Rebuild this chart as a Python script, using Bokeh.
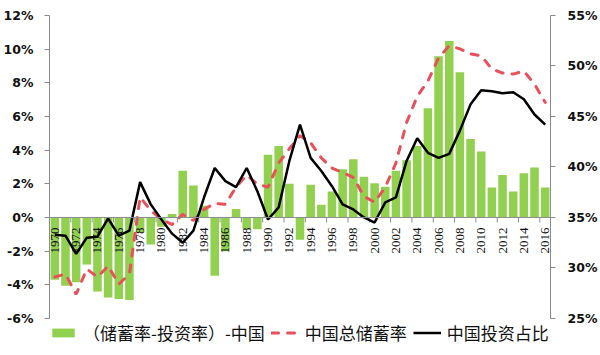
import math
from bokeh.plotting import figure
from bokeh.models import Range1d, LinearAxis, FixedTicker, Legend, LegendItem, Span
from bokeh.embed import file_html
from bokeh.resources import INLINE

years = list(range(1970, 2017))
gap = [-3.7, -4.05, -3.85, -2.8, -4.4, -4.75, -4.85, -4.9, -0.9, -1.6,
       -0.55, 0.2, 2.77, 1.9, 0.7, -3.46, -2.0, 0.5, -0.7, -0.7,
       3.72, 4.25, 2.0, -1.32, 1.94, 0.75, 1.55, 2.87, 3.46, 2.42,
       2.04, 1.82, 2.77, 3.4, 4.24, 6.49, 9.58, 10.49, 8.63, 4.67,
       3.92, 1.78, 2.53, 1.55, 2.63, 2.97, 1.78]
saving = [29.1, 29.4, 27.4, 29.9, 29.1, 30.2, 28.4, 29.4, 37.0, 35.7,
          34.8, 34.3, 35.3, 34.7, 35.8, 36.4, 36.3, 38.0, 39.2, 38.3,
          38.0, 40.4, 41.8, 43.1, 42.4, 40.9, 39.9, 39.45, 38.96, 37.1,
          36.5, 38.0, 40.4, 44.4, 47.0, 48.5, 50.8, 52.0, 51.7, 51.2,
          51.0, 49.7, 49.3, 49.2, 49.5, 48.2, 46.4]
invest = [33.3, 33.2, 31.4, 33.0, 33.1, 34.9, 33.2, 33.7, 38.5, 36.3,
          34.8, 33.4, 32.5, 33.7, 37.0, 39.9, 38.6, 38.0, 39.9, 37.6,
          34.8, 36.0, 40.6, 44.2, 40.9, 39.6, 38.1, 36.3, 35.8, 35.0,
          34.5, 36.5, 37.0, 40.6, 42.85, 41.4, 40.9, 41.3, 43.6, 46.2,
          47.6, 47.5, 47.3, 47.4, 46.7, 45.2, 44.2]
left_ticks = [-6, -4, -2, 0, 2, 4, 6, 8, 10, 12]
right_ticks = [25, 30, 35, 40, 45, 50, 55]
x_label_years = years[::2]
x_labels = [str(y) for y in x_label_years]
x_boundaries = [1969.5] + [y + 0.5 for y in years if y % 2 == 1]
legend_labels = ["（储蓄率-投资率）-中国", "中国总储蓄率", "中国投资占比"]

AXIS_GRAY = "#8c8c8c"
# frame extends below -6% to leave room for the legend; axis lines are bounded
LEFT_LO, LEFT_HI = -8.2, 12
RIGHT_LO = 35 + LEFT_LO * 5 / 3
RIGHT_HI = 55

p = figure(width=600, height=355, output_backend="svg", toolbar_location=None,
           x_range=Range1d(1969.5, 2016.5), y_range=Range1d(LEFT_LO, LEFT_HI),
           x_axis_location=None,
           min_border_left=47, min_border_right=47, min_border_top=15,
           min_border_bottom=0)
p.grid.visible = False
p.outline_line_color = None
p.extra_y_ranges = {"right": Range1d(RIGHT_LO, RIGHT_HI)}

# left axis
ly = p.yaxis[0]
ly.ticker = FixedTicker(ticks=left_ticks)
ly.bounds = (left_ticks[0], left_ticks[-1])
ly.major_label_overrides = {t: f"{t}%" for t in left_ticks}
ly.axis_line_color = AXIS_GRAY
ly.major_tick_line_color = AXIS_GRAY
ly.major_tick_out = 5
ly.major_tick_in = 0
ly.minor_tick_line_color = None
ly.major_label_standoff = 11
ly.major_label_text_font = "DejaVu Sans"
ly.major_label_text_font_style = "bold"
ly.major_label_text_font_size = "12.5px"
ly.major_label_text_color = "#111111"

# right axis
ry = LinearAxis(y_range_name="right", ticker=FixedTicker(ticks=right_ticks),
                bounds=(right_ticks[0], right_ticks[-1]),
                major_label_overrides={t: f"{t}%" for t in right_ticks})
ry.axis_line_color = AXIS_GRAY
ry.major_tick_line_color = AXIS_GRAY
ry.major_tick_out = 5
ry.major_tick_in = 0
ry.minor_tick_line_color = None
ry.major_label_standoff = 12
ry.major_label_text_font = "DejaVu Sans"
ry.major_label_text_font_style = "bold"
ry.major_label_text_font_size = "12.5px"
ry.major_label_text_color = "#111111"
p.add_layout(ry, "right")

bars = p.vbar(x=years, top=gap, bottom=0, width=0.8,
              fill_color="#92D050", line_color=None)

# category axis drawn at zero
p.add_layout(Span(location=0, dimension="width", line_color=AXIS_GRAY, line_width=1))
p.ray(x=x_boundaries, y=[0] * len(x_boundaries), length=5, length_units="screen",
      angle=-math.pi / 2, line_color=AXIS_GRAY, line_width=1)
p.text(x=x_label_years, y=[0] * len(x_label_years), text=x_labels,
       angle=math.pi / 2, text_align="right", text_baseline="middle",
       y_offset=10, text_font="DejaVu Sans", text_font_size="13px",
       text_color="#111111")

sav = p.line(years, saving, y_range_name="right", line_color="#E8505A",
             line_width=3, line_dash="7 9", line_cap="round")
inv = p.line(years, invest, y_range_name="right", line_color="black",
             line_width=2.5)

legend = Legend(items=[LegendItem(label=legend_labels[0], renderers=[bars]),
                       LegendItem(label=legend_labels[1], renderers=[sav]),
                       LegendItem(label=legend_labels[2], renderers=[inv])],
                orientation="horizontal", location=(0, 10),
                glyph_width=28, glyph_height=11, label_standoff=6, spacing=6,
                padding=0, margin=0, border_line_color=None,
                background_fill_alpha=0,
                label_text_font="Noto Sans CJK SC", label_text_font_size="17px",
                label_text_color="#111111")
p.add_layout(legend, "center")

open("out.html", "w").write(file_html(p, INLINE))
